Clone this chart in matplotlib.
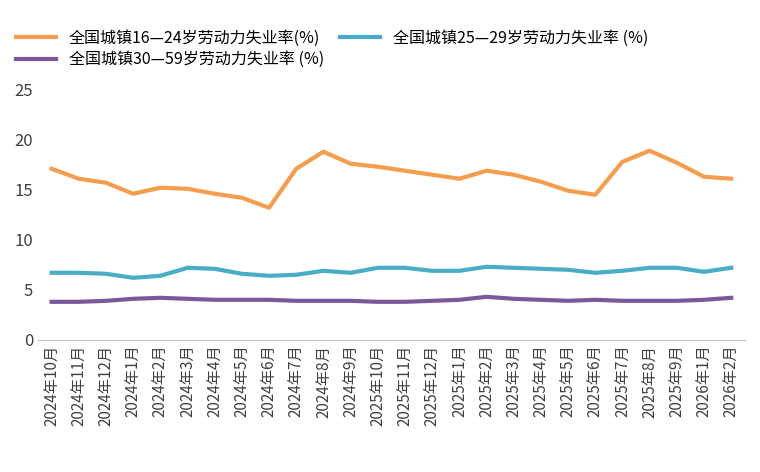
import matplotlib.pyplot as plt
import numpy as np

plt.rcParams['font.family'] = ['Noto Sans CJK SC', 'DejaVu Sans']

months = ["2024年10月", "2024年11月", "2024年12月"] + [f"2024年{m}月" for m in range(1, 10)] \
    + ["2025年10月", "2025年11月", "2025年12月"] + [f"2025年{m}月" for m in range(1, 10)] \
    + ["2026年1月", "2026年2月"]
youth = [17.1, 16.1, 15.7, 14.6, 15.2, 15.1, 14.6, 14.2, 13.2, 17.1, 18.8, 17.6, 17.3,
         16.9, 16.5, 16.1, 16.9, 16.5, 15.8, 14.9, 14.5, 17.8, 18.9, 17.7, 16.3, 16.1]
young_adult = [6.7, 6.7, 6.6, 6.2, 6.4, 7.2, 7.1, 6.6, 6.4, 6.5, 6.9, 6.7, 7.2,
               7.2, 6.9, 6.9, 7.3, 7.2, 7.1, 7.0, 6.7, 6.9, 7.2, 7.2, 6.8, 7.2]
adult = [3.8, 3.8, 3.9, 4.1, 4.2, 4.1, 4.0, 4.0, 4.0, 3.9, 3.9, 3.9, 3.8,
         3.8, 3.9, 4.0, 4.3, 4.1, 4.0, 3.9, 4.0, 3.9, 3.9, 3.9, 4.0, 4.2]
labels = ["全国城镇16—24岁劳动力失业率(%)", "全国城镇25—29岁劳动力失业率 (%)", "全国城镇30—59岁劳动力失业率 (%)"]
colors = ["#F59D4E", "#4BACC6", "#7B5A9C"]

x = np.arange(len(months))
fig, ax = plt.subplots(figsize=(7.6, 4.72), dpi=100)

lines = []
for vals, lab, col in zip([youth, young_adult, adult], labels, colors):
    ln, = ax.plot(x, vals, color=col, linewidth=3, label=lab)
    lines.append(ln)

ax.set_ylim(0, 25)
ax.set_yticks([0, 5, 10, 15, 20, 25])
ax.set_xlim(-0.5, len(months) - 0.5)
ax.set_xticks(x)
ax.set_xticklabels(months, rotation=90, fontsize=11, color="#404040")
ax.tick_params(axis='y', labelsize=12, colors="#404040", length=0)
ax.tick_params(axis='x', length=0)
for s in ['top', 'right', 'left']:
    ax.spines[s].set_visible(False)
ax.spines['bottom'].set_color("#BFBFBF")

# Legend above the plot (column-wise fill, so reorder to get two rows)
order = [0, 2, 1]
ax.legend([lines[i] for i in order], [labels[i] for i in order],
          loc='lower left', bbox_to_anchor=(-0.04, 1.06), ncol=2, frameon=False,
          fontsize=11.5, handlelength=2.5, columnspacing=1.0, borderaxespad=0,
          labelspacing=0.3)

plt.subplots_adjust(left=0.05, right=0.98, top=0.81, bottom=0.28)
plt.savefig("out.png")
